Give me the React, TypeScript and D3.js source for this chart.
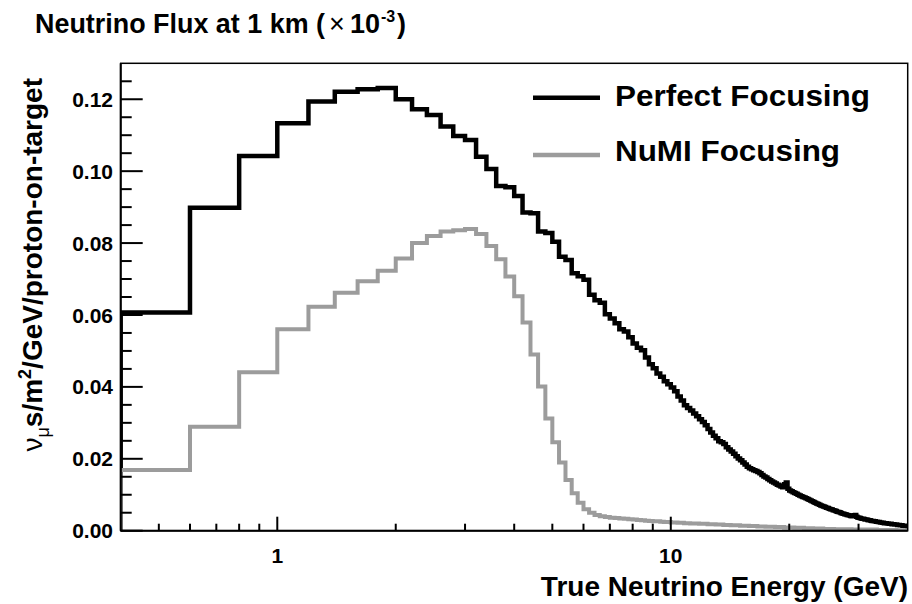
import React from 'react';
import * as d3 from 'd3';

// Histogram binning (GeV): uniform bins starting at binStart
const binStart = 0.4;
const binWidth = 0.2;

// Perfect focusing flux per bin (x10^-3 nu/m^2/GeV/POT)
const perfectFocusing = [
  0.0607, 0.0898, 0.1042, 0.1133, 0.1194, 0.1221, 0.1228, 0.1231, 0.1200, 0.1172,
  0.1156, 0.1124, 0.1098, 0.1087, 0.1040, 0.1006, 0.0959, 0.0955, 0.0931, 0.0885,
  0.0883, 0.0832, 0.0828, 0.0804, 0.0762, 0.0753, 0.0716, 0.0708, 0.0698, 0.0656,
  0.0641, 0.0634, 0.0602, 0.0590, 0.0577, 0.0560, 0.0554, 0.0538, 0.0521, 0.0509,
  0.0502, 0.0482, 0.0463, 0.0452, 0.0437, 0.0428, 0.0416, 0.0407, 0.0398, 0.0388,
  0.0373, 0.0362, 0.0349, 0.0341, 0.0334, 0.0326, 0.0318, 0.0310, 0.0302, 0.0293,
  0.0283, 0.0273, 0.0264, 0.0257, 0.0249, 0.0246, 0.0241, 0.0232, 0.0226, 0.0220,
  0.0214, 0.0207, 0.0201, 0.0196, 0.0190, 0.0184, 0.0178, 0.0174, 0.0171, 0.0168,
  0.0166, 0.0163, 0.0160, 0.0155, 0.0151, 0.0148, 0.0144, 0.0140, 0.0137, 0.0134,
  0.0131, 0.0128, 0.0126, 0.0123, 0.0121, 0.0129, 0.0134, 0.0117, 0.0112, 0.0110,
  0.0107, 0.0105, 0.0103, 0.0100, 0.0098, 0.0096, 0.0094, 0.0092, 0.0090, 0.0088,
  0.0086, 0.0084, 0.0082, 0.0080, 0.0078, 0.0076, 0.0074, 0.0072, 0.0070, 0.0069,
  0.0067, 0.0066, 0.0064, 0.0063, 0.0061, 0.0060, 0.0059, 0.0057, 0.0056, 0.0055,
  0.0053, 0.0052, 0.0051, 0.0049, 0.0048, 0.0047, 0.0046, 0.0045, 0.0044, 0.0043,
  0.0042, 0.0041, 0.0040, 0.0041, 0.0043, 0.0044, 0.0039, 0.0037, 0.0036, 0.0035,
  0.0034, 0.0033, 0.0033, 0.0032, 0.0031, 0.0031, 0.0030, 0.0029, 0.0029, 0.0028,
  0.0027, 0.0027, 0.0026, 0.0026, 0.0025, 0.0025, 0.0024, 0.0024, 0.0023, 0.0023,
  0.0022, 0.0022, 0.0021, 0.0021, 0.0021, 0.0020, 0.0020, 0.0019, 0.0019, 0.0019,
  0.0018, 0.0018, 0.0018, 0.0017, 0.0017, 0.0017, 0.0016, 0.0016, 0.0016, 0.0015,
  0.0015, 0.0015, 0.0014, 0.0014, 0.0014, 0.0013, 0.0013, 0.0013,
];

// NuMI focusing flux per bin
const numiFocusing = [
  0.0169, 0.0289, 0.0441, 0.0560, 0.0623, 0.0662, 0.0694, 0.0723, 0.0757, 0.0800,
  0.0820, 0.0832, 0.0836, 0.0839, 0.0825, 0.0792, 0.0755, 0.0707, 0.0652, 0.0579,
  0.0490, 0.0401, 0.0312, 0.0246, 0.0190, 0.0141, 0.0104, 0.0078, 0.0060, 0.0050,
  0.0044, 0.0040, 0.0038, 0.0036, 0.0035, 0.0034, 0.0033, 0.0032, 0.0031, 0.0030,
  0.0029, 0.0028, 0.0027, 0.0026, 0.0026, 0.0025, 0.0024, 0.0024, 0.0023, 0.0023,
  0.0022, 0.0022, 0.0021, 0.0021, 0.0020, 0.0020, 0.0020, 0.0019, 0.0019, 0.0019,
  0.0018, 0.0018, 0.0018, 0.0017, 0.0017, 0.0017, 0.0016, 0.0016, 0.0016, 0.0015,
  0.0015, 0.0015, 0.0015, 0.0014, 0.0014, 0.0014, 0.0014, 0.0013, 0.0013, 0.0013,
  0.0013, 0.0012, 0.0012, 0.0012, 0.0012, 0.0011, 0.0011, 0.0011, 0.0011, 0.0011,
  0.0010, 0.0010, 0.0010, 0.0010, 0.0010, 0.0009, 0.0009, 0.0009, 0.0009, 0.0009,
  0.0009, 0.0008, 0.0008, 0.0008, 0.0008, 0.0008, 0.0008, 0.0007, 0.0007, 0.0007,
  0.0007, 0.0007, 0.0007, 0.0006, 0.0006, 0.0006, 0.0006, 0.0006, 0.0006, 0.0006,
  0.0005, 0.0005, 0.0005, 0.0005, 0.0005, 0.0005, 0.0005, 0.0005, 0.0004, 0.0004,
  0.0004, 0.0004, 0.0004, 0.0004, 0.0004, 0.0004, 0.0004, 0.0004, 0.0004, 0.0004,
  0.0004, 0.0004, 0.0003, 0.0003, 0.0003, 0.0003, 0.0003, 0.0003, 0.0003, 0.0003,
  0.0003, 0.0003, 0.0003, 0.0003, 0.0003, 0.0003, 0.0003, 0.0003, 0.0003, 0.0003,
  0.0003, 0.0003, 0.0003, 0.0003, 0.0003, 0.0002, 0.0002, 0.0002, 0.0002, 0.0002,
  0.0002, 0.0002, 0.0002, 0.0002, 0.0002, 0.0002, 0.0002, 0.0002, 0.0002, 0.0002,
  0.0002, 0.0002, 0.0002, 0.0002, 0.0002, 0.0001, 0.0001, 0.0001, 0.0001, 0.0001,
  0.0001, 0.0001, 0.0001, 0.0001, 0.0001, 0.0001, 0.0001, 0.0001,
];

const xDomain = [0.4, 40];
const yDomain = [0, 0.13];
const yMajorTicks = [0, 0.02, 0.04, 0.06, 0.08, 0.1, 0.12];
const yTickLabels = ['0.00', '0.02', '0.04', '0.06', '0.08', '0.10', '0.12'];
const yMinorTicks = [
  0.005, 0.01, 0.015, 0.025, 0.03, 0.035, 0.045, 0.05, 0.055, 0.065, 0.07, 0.075,
  0.085, 0.09, 0.095, 0.105, 0.11, 0.115, 0.125,
];
const xMajorTicks = [1, 10];
const xTickLabels = ['1', '10'];
const xMinorTicks = [0.5, 0.6, 0.7, 0.8, 0.9, 2, 3, 4, 5, 6, 7, 8, 9, 20, 30];

const seriesNames = ['Perfect Focusing', 'NuMI Focusing'];
const seriesColors = ['#000000', '#9c9c9c'];
const seriesWidths = [4.5, 4];
const legendTextLengths = [255, 225];

const FONT = '"Liberation Sans", Arial, Helvetica, sans-serif';

export default function App() {
  const W = 912;
  const H = 604;
  const left = 120.7;
  const right = 907.7;
  const top = 63.3;
  const bottom = 530.7;

  const x = d3.scaleLog().domain(xDomain).range([left, right]);
  const y = d3.scaleLinear().domain(yDomain).range([bottom, top]);

  const histPath = (vals: number[]) => {
    const pts: [number, number][] = [[binStart, 0]];
    vals.forEach((v, i) => pts.push([binStart + i * binWidth, v]));
    pts.push([binStart + vals.length * binWidth, 0]);
    return (
      d3
        .line<[number, number]>()
        .x((d) => x(d[0]))
        .y((d) => y(d[1]))
        .curve(d3.curveStepAfter)(pts) || ''
    );
  };

  const series = [perfectFocusing, numiFocusing];

  return (
    <svg
      width={W}
      height={H}
      style={{ position: 'absolute', left: 0, top: 0, background: '#fff' }}
      fontFamily={FONT}
    >
      <rect x={0} y={0} width={W} height={H} fill="#fff" />
      <defs>
        <clipPath id="plotClip">
          <rect x={left} y={top} width={right - left} height={bottom - top} />
        </clipPath>
      </defs>

      {/* histograms */}
      <g clipPath="url(#plotClip)">
        {series.map((vals, i) => (
          <path
            key={i}
            d={histPath(vals)}
            fill="none"
            stroke={seriesColors[i]}
            strokeWidth={seriesWidths[i]}
            strokeLinejoin="miter"
          />
        ))}
      </g>

      {/* frame */}
      <rect
        x={left}
        y={top}
        width={right - left}
        height={bottom - top}
        fill="none"
        stroke="#000"
        strokeWidth={1.5}
      />
      <line x1={left} x2={left} y1={top} y2={bottom} stroke="#000" strokeWidth={2} />
      <line x1={left} x2={right} y1={bottom} y2={bottom} stroke="#000" strokeWidth={2} />

      {/* y ticks */}
      {yMajorTicks.map((t, i) => (
        <g key={'ym' + i}>
          <line x1={left} x2={left + 22} y1={y(t)} y2={y(t)} stroke="#000" strokeWidth={2} />
          <text
            x={113}
            y={y(t)}
            dy="0.36em"
            textAnchor="end"
            fontSize={21}
            fontWeight="bold"
          >
            {yTickLabels[i]}
          </text>
        </g>
      ))}
      {yMinorTicks.map((t, i) => (
        <line key={'yn' + i} x1={left} x2={left + 11} y1={y(t)} y2={y(t)} stroke="#000" strokeWidth={2} />
      ))}

      {/* x ticks */}
      {xMajorTicks.map((t, i) => (
        <g key={'xm' + i}>
          <line x1={x(t)} x2={x(t)} y1={bottom} y2={bottom - 14} stroke="#000" strokeWidth={2} />
          <text x={x(t)} y={563} textAnchor="middle" fontSize={21} fontWeight="bold">
            {xTickLabels[i]}
          </text>
        </g>
      ))}
      {xMinorTicks.map((t, i) => (
        <line key={'xn' + i} x1={x(t)} x2={x(t)} y1={bottom} y2={bottom - 7} stroke="#000" strokeWidth={2} />
      ))}

      {/* axis titles */}
      <text x={908} y={596} textAnchor="end" fontSize={28} fontWeight="bold">
        True Neutrino Energy (GeV)
      </text>
      <text
        transform="translate(42,78) rotate(-90)"
        textAnchor="end"
        fontSize={28}
        fontWeight="bold"
      >
        <tspan fontWeight="normal">ν</tspan>
        <tspan fontWeight="normal" fontSize={18} dy={7}>μ</tspan>
        <tspan dy={-7}>s/m</tspan>
        <tspan fontSize={18} dy={-11}>2</tspan>
        <tspan dy={11}>/GeV/proton-on-target</tspan>
      </text>

      {/* chart title */}
      <text x={35} y={33} fontSize={27} fontWeight="bold" textLength={290} lengthAdjust="spacingAndGlyphs">
        Neutrino Flux at 1 km (
      </text>
      <text x={329} y={33} fontSize={27}>×</text>
      <text x={350} y={33} fontSize={27} fontWeight="bold">10</text>
      <text x={381} y={22} fontSize={16} fontWeight="bold">-3</text>
      <text x={397} y={33} fontSize={27} fontWeight="bold">)</text>

      {/* legend */}
      {seriesNames.map((name, i) => (
        <g key={'lg' + i}>
          <line
            x1={533}
            x2={600}
            y1={97.7 + i * 57.3}
            y2={97.7 + i * 57.3}
            stroke={seriesColors[i]}
            strokeWidth={4.5}
          />
          <text
            x={615}
            y={106 + i * 55}
            fontSize={29}
            fontWeight="bold"
            textLength={legendTextLengths[i]}
            lengthAdjust="spacingAndGlyphs"
          >
            {name}
          </text>
        </g>
      ))}
    </svg>
  );
}
